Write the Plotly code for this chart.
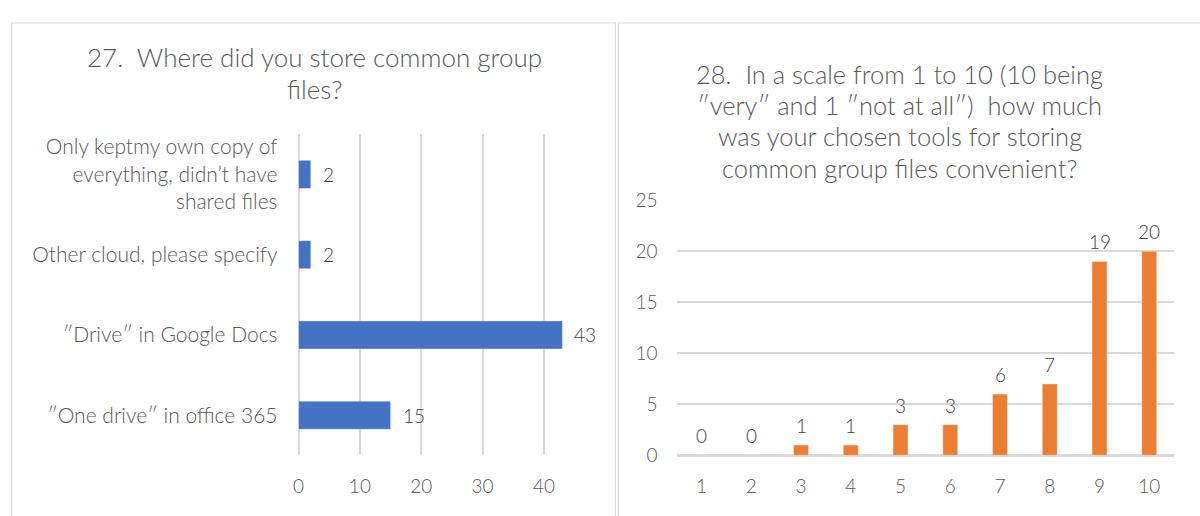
import plotly.graph_objects as go

# Question 27: storage locations (horizontal bars)
storage_labels = [
    "Only keptmy own copy of<br>everything, didn’t have<br>shared files",
    "Other cloud, please specify",
    "″Drive″ in Google Docs",
    "″One drive″ in office 365",
]
storage_counts = [2, 2, 43, 15]
storage_ticks = [0, 10, 20, 30, 40]

# Question 28: convenience rating 1-10 (vertical bars)
rating_labels = ["1", "2", "3", "4", "5", "6", "7", "8", "9", "10"]
rating_counts = [0, 0, 1, 1, 3, 3, 6, 7, 19, 20]
rating_ticks = [0, 5, 10, 15, 20, 25]

title_27 = ["27.  Where did you store common group", "files?"]
title_28 = [
    "28.  In a scale from 1 to 10 (10 being",
    "″very″ and 1 ″not at all″)  how much",
    "was your chosen tools for storing",
    "common group files convenient?",
]

W, H = 1200, 516
FONT = "Lato, 'Open Sans', sans-serif"
WEIGHT = 300
GRID = "#d9d9d9"
TICK = "#595959"
LABEL = "#404040"
BLUE = "#4472C4"
ORANGE = "#ED7D31"


def px_x(x):
    return x / W


def px_y(y):
    return 1 - y / H


def font(size, color):
    return dict(family=FONT, size=size, color=color, weight=WEIGHT)


fig = go.Figure()

fig.add_trace(go.Bar(
    x=storage_counts, y=storage_labels, orientation="h",
    marker_color=BLUE, width=0.35, xaxis="x", yaxis="y",
    hoverinfo="x+y",
))
fig.add_trace(go.Bar(
    x=rating_labels, y=rating_counts,
    marker_color=ORANGE, width=0.3, xaxis="x2", yaxis="y2",
    hoverinfo="x+y",
))

annotations = []
# value labels beside the horizontal bars (category positions by index)
for i, v in enumerate(storage_counts):
    annotations.append(dict(
        x=v, y=i, xref="x", yref="y", text=str(v), showarrow=False,
        xanchor="left", xshift=10, font=font(19, LABEL),
    ))
# value labels above the vertical bars
for i, v in enumerate(rating_counts):
    annotations.append(dict(
        x=i, y=v, xref="x2", yref="y2", text=str(v), showarrow=False,
        yanchor="bottom", yshift=6, font=font(19, LABEL),
    ))
# chart titles, one annotation per line
for i, line in enumerate(title_27):
    annotations.append(dict(
        x=px_x(310), y=px_y(47 + 34 * i), xref="paper", yref="paper",
        text=line, showarrow=False, xanchor="center", yanchor="middle",
        font=font(26, TICK),
    ))
for i, line in enumerate(title_28):
    annotations.append(dict(
        x=px_x(898), y=px_y(65 + 32.6 * i), xref="paper", yref="paper",
        text=line, showarrow=False, xanchor="center", yanchor="middle",
        font=font(25.5, TICK),
    ))

# chart-area frames
shapes = [
    dict(type="rect", xref="paper", yref="paper",
         x0=px_x(5.5), x1=px_x(612.5), y0=-0.05, y1=px_y(11.5),
         line=dict(color=GRID, width=1.2)),
    dict(type="rect", xref="paper", yref="paper",
         x0=px_x(615.5), x1=1.05, y0=-0.05, y1=px_y(11.5),
         line=dict(color=GRID, width=1.2)),
]

fig.update_layout(
    width=W, height=H,
    margin=dict(l=0, r=0, t=0, b=0),
    paper_bgcolor="white", plot_bgcolor="white",
    showlegend=False,
    font=dict(family=FONT, color=TICK),
    annotations=annotations,
    shapes=shapes,
    xaxis=dict(
        domain=[px_x(294), px_x(590)], anchor="y",
        range=[0, 48], tickvals=storage_ticks,
        showgrid=True, gridcolor=GRID, gridwidth=2,
        zeroline=True, zerolinecolor=GRID, zerolinewidth=2,
        showline=False, ticks="", ticklabelstandoff=18,
        tickfont=font(19, TICK),
    ),
    yaxis=dict(
        domain=[px_y(464), px_y(128)], anchor="x",
        type="category", categoryorder="array", categoryarray=storage_labels,
        autorange="reversed",
        showgrid=False, zeroline=False, showline=False, ticks="",
        ticklabelstandoff=20,
        tickfont=font(21, TICK),
    ),
    xaxis2=dict(
        domain=[px_x(674), px_x(1174)], anchor="y2",
        type="category", showgrid=False, zeroline=False, showline=False,
        ticks="", ticklabelstandoff=18,
        tickfont=font(19, TICK),
    ),
    yaxis2=dict(
        domain=[px_y(464), px_y(197)], anchor="x2",
        range=[0, 25], tickvals=rating_ticks,
        showgrid=True, gridcolor=GRID, gridwidth=2,
        zeroline=True, zerolinecolor=GRID, zerolinewidth=2.5,
        showline=False, ticks="", ticklabelstandoff=18,
        tickfont=font(19, TICK),
    ),
)

fig.write_html("out.html")
